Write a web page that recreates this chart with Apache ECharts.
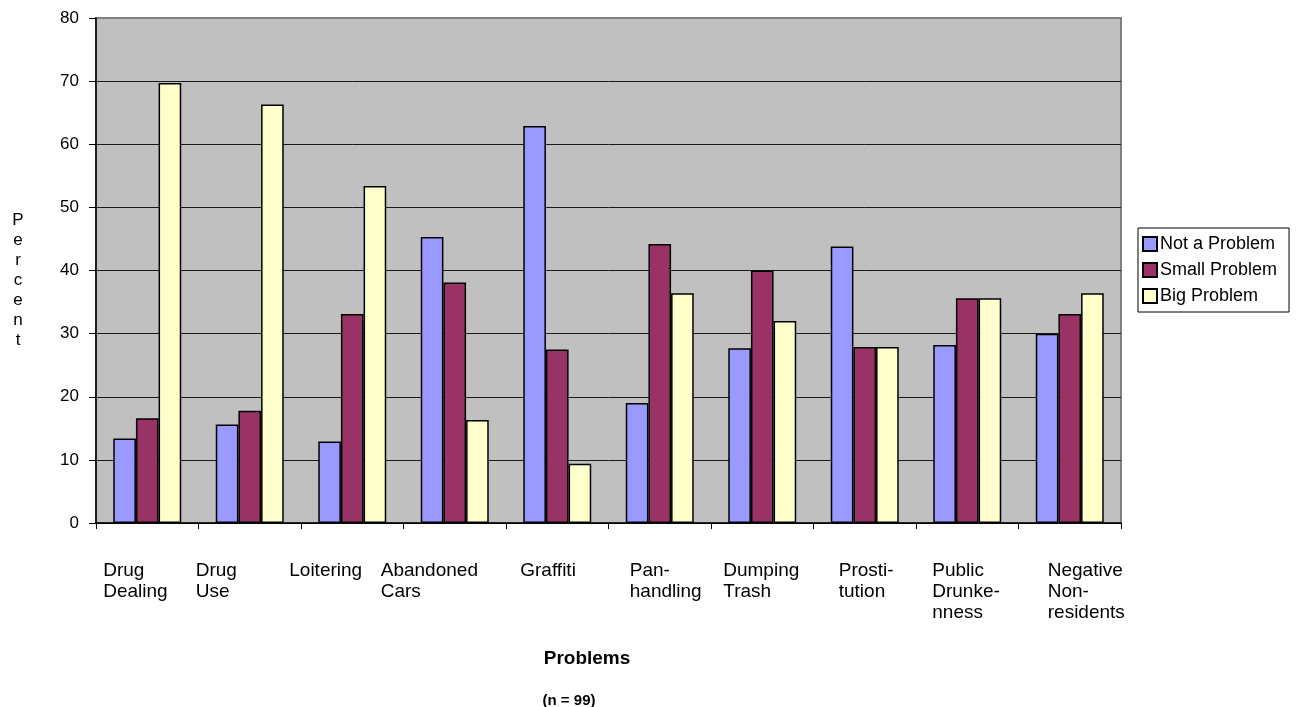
<!DOCTYPE html>
<html>
<head>
<meta charset="utf-8">
<title>Problems</title>
<script src="https://cdn.jsdelivr.net/npm/echarts@6/dist/echarts.min.js"></script>
<style>
  html, body { margin: 0; padding: 0; background: #ffffff; }
  #chart { width: 1302px; height: 707px; }
</style>
</head>
<body>
<div id="chart"></div>
<script>
// Survey categories (wrapped as two or three lines under the axis)
const categories = [
  'Drug\nDealing', 'Drug\nUse', 'Loitering', 'Abandoned\nCars', 'Graffiti',
  'Pan-\nhandling', 'Dumping\nTrash', 'Prosti-\ntution', 'Public\nDrunke-\nnness', 'Negative\nNon-\nresidents'
];

// Percent of respondents per answer
const notAProblem  = [13.4, 15.6, 12.9, 45.3, 62.9, 19.0, 27.7, 43.8, 28.2, 30.0];
const smallProblem = [16.6, 17.8, 33.1, 38.1, 27.5, 44.2, 40.0, 27.9, 35.6, 33.1];
const bigProblem   = [69.7, 66.3, 53.4, 16.3,  9.4, 36.4, 32.0, 27.9, 35.6, 36.4];

const seriesNames = ['Not a Problem', 'Small Problem', 'Big Problem'];
const yTicks = { min: 0, max: 80, interval: 10 };

// Horizontal nudge of each category label's left edge from its slot centre
const labelShift = [-44, -54, -63, -74, -37, -30, -39, -26, -35, -22];

const FONT = '"Liberation Sans", Arial, Helvetica, sans-serif';
const colors = ['#9999FF', '#993366', '#FFFFCC'];

// Gridlines are dark; the one on the top edge takes the frame's grey
const gridCount = (yTicks.max - yTicks.min) / yTicks.interval + 1;
const gridColors = Array.from({ length: gridCount }, (_, i) => (i === gridCount - 1 ? '#808080' : '#1a1a1a'));

// Vertical axis title, one letter per line (leading blank line drops it slightly)
const yTitle = '\n' + 'Percent'.split('').join('\n');

const chart = echarts.init(document.getElementById('chart'), null, { renderer: 'canvas' });

const barSeries = [notAProblem, smallProblem, bigProblem].map((vals, i) => ({
  name: seriesNames[i],
  type: 'bar',
  data: vals,
  barGap: '0%',
  barCategoryGap: '33.7%',
  itemStyle: { color: colors[i], borderColor: '#000000', borderWidth: 1.5 },
  emphasis: { disabled: true }
}));

chart.setOption({
  animation: false,
  textStyle: { fontFamily: FONT, color: '#000' },
  title: [
    {
      text: 'Problems', left: 582, top: 644, textAlign: 'center',
      textStyle: { fontFamily: FONT, fontSize: 19, fontWeight: 'bold', color: '#000' }
    },
    {
      text: '(n = 99)', left: 564, top: 688, textAlign: 'center',
      textStyle: { fontFamily: FONT, fontSize: 15, fontWeight: 'bold', color: '#000' }
    }
  ],
  legend: {
    orient: 'vertical',
    left: 1138, top: 228,
    padding: [7, 12, 7, 4],
    itemWidth: 14, itemHeight: 14, itemGap: 8,
    icon: 'rect',
    borderColor: '#000', borderWidth: 1,
    backgroundColor: '#fff',
    textStyle: { fontFamily: FONT, fontSize: 18, color: '#000', padding: [0, 0, 0, -2] },
    data: seriesNames
  },
  grid: {
    left: 96, right: 181, top: 18, bottom: 184,
    show: true, backgroundColor: '#C0C0C0',
    borderColor: '#808080', borderWidth: 2
  },
  xAxis: {
    type: 'category',
    data: categories.map((c, i) => ({
      value: c,
      textStyle: { align: 'left', padding: [0, 0, 0, labelShift[i]] }
    })),
    boundaryGap: true,
    axisLine: { lineStyle: { color: '#000', width: 1.5 } },
    axisTick: { show: true, inside: false, length: 6, lineStyle: { color: '#000', width: 1 } },
    axisLabel: {
      interval: 0, margin: 37, align: 'left',
      fontFamily: FONT, fontSize: 19, lineHeight: 21, color: '#000'
    },
    splitLine: { show: false }
  },
  yAxis: {
    type: 'value',
    min: yTicks.min, max: yTicks.max, interval: yTicks.interval,
    name: yTitle,
    nameLocation: 'middle', nameRotate: 0, nameGap: 78,
    nameTextStyle: { fontFamily: FONT, fontSize: 17, lineHeight: 20, color: '#000', align: 'center' },
    axisLine: { show: true, lineStyle: { color: '#000', width: 1.5 } },
    axisTick: { show: true, inside: false, length: 7, lineStyle: { color: '#000', width: 1 } },
    axisLabel: { margin: 17, fontFamily: FONT, fontSize: 17, color: '#000' },
    splitLine: { show: true, lineStyle: { color: gridColors, width: 1 } }
  },
  series: barSeries
});
</script>
</body>
</html>
